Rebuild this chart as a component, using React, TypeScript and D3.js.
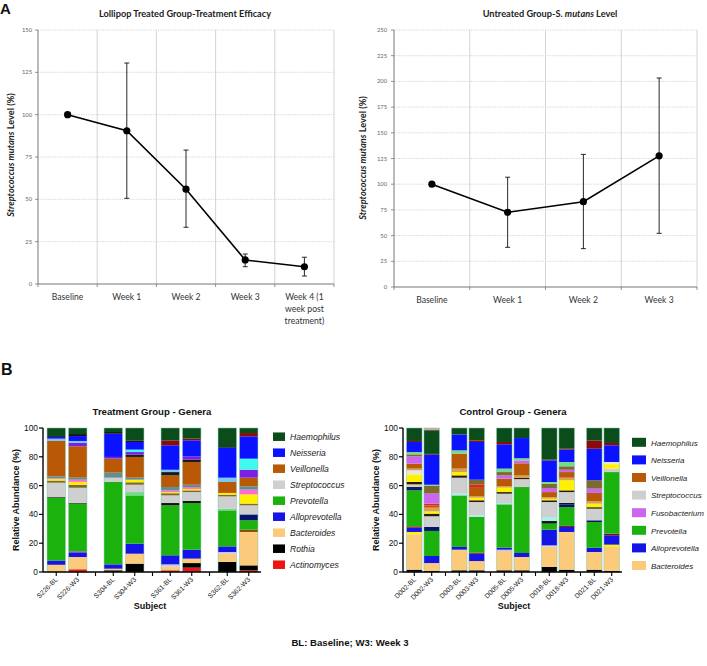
import React from 'react';
import * as d3 from 'd3';

// ---------- Panel A data ----------
const treatedWeeks = ['Baseline', 'Week 1', 'Week 2', 'Week 3', 'Week 4'];
const treatedWeekLabels = [['Baseline'], ['Week 1'], ['Week 2'], ['Week 3'], ['Week 4 (1', 'week post', 'treatment)']];
const treatedMean = [100, 90.5, 56, 14.2, 10.2];
const treatedLow = [100, 50.6, 33.5, 10.2, 4.7];
const treatedHigh = [100, 130.5, 79.1, 17.7, 15.8];
const treatedTicks = [0, 25, 50, 75, 100, 125, 150];

const untreatedWeeks = ['Baseline', 'Week 1', 'Week 2', 'Week 3'];
const untreatedMean = [100, 72.7, 83, 127.6];
const untreatedLow = [100, 38.6, 37.3, 52.2];
const untreatedHigh = [100, 106.8, 129, 203.3];
const untreatedTicks = [0, 25, 50, 75, 100, 125, 150, 175, 200, 225, 250];

// ---------- Panel B: treatment group ----------
const treatBars = ['S226-BL', 'S226-W3', 'S304-BL', 'S304-W3', 'S361-BL', 'S361-W3', 'S362-BL', 'S362-W3'];
const treatSubjects = ['S226', 'S304', 'S361', 'S362'];
const tActinomyces = [0, 1.9, 0, 0, 1.2, 3, 0, 1.2];
const tRothia = [0, 0, 1.2, 5.8, 0, 3.2, 7, 3.4];
const tBacteroides = [5, 8.5, 1.1, 6.9, 2.7, 3.1, 5.7, 23.2];
const tLavender = [0, 0, 0, 0, 1.4, 0, 1.2, 0];
const tAlloprevotella = [3, 3, 3, 7, 6.3, 6.2, 3.9, 0];
const tPurpleLow = [0, 0.9, 0, 0, 0, 0, 0, 0];
const tBrownLow = [0, 0, 0, 0, 0, 0, 0, 1.6];
const tPrevotella = [43.5, 33.2, 57.2, 33.5, 34.7, 32.4, 25, 6.5];
const tNavy = [0, 0, 0, 0, 0, 0, 0, 4.1];
const tBlackMid = [0.5, 0.5, 0, 0, 1.6, 1.4, 0, 0];
const tLightGreen = [0, 0, 0, 2.3, 0, 0, 1.2, 0];
const tStreptococcus = [10, 10.5, 3, 5.1, 5.3, 6.2, 8.5, 6.3];
const tOlive = [1.5, 2.1, 0, 1.7, 1.5, 1.2, 1.2, 1.2];
const tYellow = [1, 2, 0, 1.8, 0.8, 1, 1.2, 6.4];
const tPink = [0.5, 1.5, 0, 0, 1.2, 1.3, 0, 3.3];
const tTeal = [1.5, 1.4, 3.5, 1.4, 2.3, 1.6, 0, 2.3];
const tVeillonella = [24.5, 21.8, 9.7, 14.4, 8.1, 15.8, 7.6, 6];
const tBlackHigh = [0, 0, 0, 1.6, 2.3, 1.6, 0, 0];
const tPurple = [0, 2.3, 1.2, 1.8, 0, 2.3, 0, 5.5];
const tCyan = [0, 0, 0, 1.7, 0, 0, 0, 7.7];
const tLightBlue = [1.6, 1.4, 0, 0, 1.6, 0, 3, 0];
const tNeisseria = [1.2, 3.4, 16.1, 5.3, 17, 11.1, 20.8, 15.5];
const tDarkRed = [0, 0, 0, 0, 3.4, 1.2, 0, 2.3];
const tBlackTop = [0.6, 1.4, 1.2, 1.1, 0, 0, 0.5, 0];
const tHaemophilus = [5.6, 4.2, 2.8, 8.6, 8.6, 7.4, 13.2, 3.5];

const treatLegend = ['Haemophilus', 'Neisseria', 'Veillonella', 'Streptococcus', 'Prevotella', 'Alloprevotella', 'Bacteroides', 'Rothia', 'Actinomyces'];

// ---------- Panel B: control group ----------
const ctrlBars = ['D002-BL', 'D002-W3', 'D003-BL', 'D003-W3', 'D005-BL', 'D005-W3', 'D018-BL', 'D018-W3', 'D021-BL', 'D021-W3'];
const ctrlSubjects = ['D002', 'D003', 'D005', 'D018', 'D021'];
const cBlack = [1.6, 0.7, 1.2, 1.2, 1.2, 1.2, 3.5, 1.6, 1.6, 0.7];
const cBacteroides = [24.6, 5.5, 14.3, 6.4, 13.4, 9.2, 14.3, 26.2, 12.3, 16.7];
const cYellowLow = [1.6, 0, 0, 0, 0, 0, 0, 0, 0, 1.6];
const cLavender = [0, 0, 0, 0, 0.9, 0, 0.7, 0, 0, 0];
const cAlloprevotella = [3, 4.9, 1.9, 5.1, 1.4, 2.8, 10.9, 3.5, 3, 6.5];
const cDarkRedLow = [0.9, 0, 0, 0.7, 0, 0, 0, 0.7, 0, 1.1];
const cPrevotella = [25, 17.4, 35.8, 24.8, 30.1, 45.8, 4.2, 13.1, 17.8, 42.8];
const cNavy = [1.6, 2.8, 0, 0, 0, 0, 0, 1.9, 1.2, 0];
const cBlackMid = [0.7, 0, 0, 0, 0, 0, 1.8, 1, 0, 0];
const cLightCyan = [0, 0, 1.2, 1.2, 0.9, 0, 2.8, 0, 0, 0];
const cStreptococcus = [1.9, 7.4, 11.1, 9.2, 6.5, 5.5, 10.4, 7.5, 8.1, 2.4];
const cBlackMid2 = [1.6, 1.8, 1.6, 1.2, 1.1, 0.8, 1.2, 1.2, 1, 0];
const cYellow = [5.3, 1.6, 2.3, 1.8, 3.1, 0, 1.1, 7, 2.5, 3.1];
const cSilver = [2.8, 0, 0, 0, 0, 0, 0, 0, 0, 1.5];
const cTan = [1.2, 2.6, 2.4, 0.9, 0.9, 1.7, 1.1, 1.8, 1.8, 0];
const cVeillonella = [3.4, 1.6, 10.4, 6.5, 5.3, 8.5, 3.5, 3.9, 5.6, 0];
const cRed = [0, 1.2, 0, 1.6, 0, 0, 0, 0, 0, 0];
const cFusobacterium = [5.1, 7, 0, 0, 2.3, 2, 2.8, 1.6, 3, 0];
const cOlive = [1.4, 5.5, 0, 3.5, 2.3, 0, 3, 2.4, 5.8, 0];
const cLightGreen = [1.6, 0.6, 2.3, 0, 2.4, 1.5, 1.2, 3, 0, 0];
const cNeisseria = [7, 20.9, 11, 26.2, 16.9, 14, 15, 8.6, 21.9, 11.6];
const cDarkRed = [0.7, 0.5, 0, 1.1, 1.6, 0, 0.5, 0.6, 5.8, 1.6];
const cHaemophilus = [9, 16.5, 4.5, 8.6, 9.7, 7, 22, 14.4, 8.6, 10.4];
const cTopPink = [0, 1.5, 0, 0, 0, 0, 0, 0, 0, 0];

const ctrlLegend = ['Haemophilus', 'Neisseria', 'Veillonella', 'Streptococcus', 'Fusobacterium', 'Prevotella', 'Alloprevotella', 'Bacteroides'];

const yTicksB = [0, 20, 40, 60, 80, 100];

// ---------- colours ----------
const COL: Record<string, string> = {
  Actinomyces: '#ec1414', Rothia: '#000000', Bacteroides: '#fbca7b', Lavender: '#c9c3f0',
  Alloprevotella: '#1414e6', PurpleLow: '#7a22c8', BrownLow: '#8a4b12', Prevotella: '#1cb20e',
  Navy: '#03136e', BlackMid: '#141414', LightGreen: '#72dc8c', Streptococcus: '#cfcfcf',
  Olive: '#7d6a2c', Yellow: '#fff200', Pink: '#ff6ad5', Teal: '#5f8f96', Veillonella: '#b95906',
  BlackHigh: '#1a1a1a', Purple: '#7b20e0', Cyan: '#40faf0', LightBlue: '#7ec8f0',
  Neisseria: '#0a12ff', DarkRed: '#8b0a0a', BlackTop: '#141414', Haemophilus: '#0b4d1a',
  Black: '#000000', YellowLow: '#fff200', DarkRedLow: '#8b0a0a', LightCyan: '#a8f0e8',
  BlackMid2: '#2a1a0a', Silver: '#e6e6e6', Tan: '#d8a050', Red: '#ef1d2a',
  Fusobacterium: '#cc66ee', TopPink: '#d8a0b0',
};

const treatSeries: [string, number[]][] = [
  ['Actinomyces', tActinomyces], ['Rothia', tRothia], ['Bacteroides', tBacteroides], ['Lavender', tLavender],
  ['Alloprevotella', tAlloprevotella], ['PurpleLow', tPurpleLow], ['BrownLow', tBrownLow], ['Prevotella', tPrevotella],
  ['Navy', tNavy], ['BlackMid', tBlackMid], ['LightGreen', tLightGreen], ['Streptococcus', tStreptococcus],
  ['Olive', tOlive], ['Yellow', tYellow], ['Pink', tPink], ['Teal', tTeal], ['Veillonella', tVeillonella],
  ['BlackHigh', tBlackHigh], ['Purple', tPurple], ['Cyan', tCyan], ['LightBlue', tLightBlue],
  ['Neisseria', tNeisseria], ['DarkRed', tDarkRed], ['BlackTop', tBlackTop], ['Haemophilus', tHaemophilus],
];
const ctrlSeries: [string, number[]][] = [
  ['Black', cBlack], ['Bacteroides', cBacteroides], ['YellowLow', cYellowLow], ['Lavender', cLavender],
  ['Alloprevotella', cAlloprevotella], ['DarkRedLow', cDarkRedLow], ['Prevotella', cPrevotella], ['Navy', cNavy],
  ['BlackMid', cBlackMid], ['LightCyan', cLightCyan], ['Streptococcus', cStreptococcus], ['BlackMid2', cBlackMid2],
  ['Yellow', cYellow], ['Silver', cSilver], ['Tan', cTan], ['Veillonella', cVeillonella], ['Red', cRed],
  ['Fusobacterium', cFusobacterium], ['Olive', cOlive], ['LightGreen', cLightGreen], ['Neisseria', cNeisseria],
  ['DarkRed', cDarkRed], ['Haemophilus', cHaemophilus], ['TopPink', cTopPink],
];

const FA = 'Lato, "Open Sans", sans-serif';
const FB = '"Liberation Sans", Arial, sans-serif';

type LineProps = {
  cats: string[]; labels: string[][]; mean: number[]; low: number[]; high: number[]; ticks: number[];
  x0: number; x1: number; y0: number; y1: number; tickLabelX: number; labelY: number;
};

function LinePanel(p: LineProps) {
  const x = d3.scaleBand().domain(p.cats).range([p.x0, p.x1]).padding(0);
  const y = d3.scaleLinear().domain([0, p.ticks[p.ticks.length - 1]]).range([p.y0, p.y1]);
  const cx = (c: string) => (x(c) as number) + x.bandwidth() / 2;
  const line = d3.line<number>().x((_, i) => cx(p.cats[i])).y((d) => y(d));
  const bounds = p.cats.map((c) => x(c) as number).concat([p.x1]);
  return (
    <g>
      {p.ticks.filter((t) => t > 0).map((t) => (
        <line key={'h' + t} x1={p.x0} x2={p.x1} y1={y(t)} y2={y(t)} stroke="#c9c9c9" strokeWidth={0.8} strokeDasharray="1.2,1.2" />
      ))}
      {bounds.slice(1).map((b, i) => (
        <line key={'v' + i} x1={b} x2={b} y1={p.y1} y2={p.y0} stroke="#cfcfcf" strokeWidth={0.9} />
      ))}
      <line x1={p.x0} x2={p.x0} y1={p.y1} y2={p.y0} stroke="#777" strokeWidth={1} />
      <line x1={p.x0} x2={p.x1} y1={p.y0} y2={p.y0} stroke="#777" strokeWidth={1} />
      {p.ticks.map((t) => (
        <g key={'t' + t}>
          <line x1={p.x0 - 3} x2={p.x0} y1={y(t)} y2={y(t)} stroke="#777" strokeWidth={0.8} />
          <text x={p.tickLabelX} y={y(t) + 2} fontSize={5.8} fill="#666" textAnchor="end" fontFamily={FA}>{t}</text>
        </g>
      ))}
      {bounds.map((b, i) => (
        <line key={'xt' + i} x1={b} x2={b} y1={p.y0} y2={p.y0 + 3} stroke="#777" strokeWidth={0.8} />
      ))}
      {p.cats.map((c, i) => (
        <text key={'xl' + c} x={cx(c)} y={p.labelY} fontSize={8.6} fill="#333" textAnchor="middle" fontFamily={FA}>
          {p.labels[i].map((l, j) => (
            <tspan key={j} x={cx(c)} dy={j === 0 ? 0 : 12.2}>{l}</tspan>
          ))}
        </text>
      ))}
      {p.cats.map((c, i) => (p.high[i] > p.low[i] ? (
        <g key={'e' + c}>
          <line x1={cx(c)} x2={cx(c)} y1={y(p.high[i])} y2={y(p.low[i])} stroke="#111" strokeWidth={0.9} />
          <line x1={cx(c) - 2.5} x2={cx(c) + 2.5} y1={y(p.high[i])} y2={y(p.high[i])} stroke="#111" strokeWidth={0.9} />
          <line x1={cx(c) - 2.5} x2={cx(c) + 2.5} y1={y(p.low[i])} y2={y(p.low[i])} stroke="#111" strokeWidth={0.9} />
        </g>
      ) : null))}
      <path d={line(p.mean) || ''} fill="none" stroke="#000" strokeWidth={1.6} />
      {p.cats.map((c, i) => (
        <circle key={'p' + c} cx={cx(c)} cy={y(p.mean[i])} r={3.6} fill="#000" />
      ))}
    </g>
  );
}

type BarProps = {
  bars: string[]; subjects: string[]; series: [string, number[]][];
  groupRange: [number, number]; innerRange: [number, number]; barW: number;
  axisX0: number; axisX1: number; title: string; titleX: number;
  legend: string[]; legendX: number; legendY0: number; legendStep: number; swW: number; swH: number;
  subjectX: number; legendFont: number;
};

function BarPanel(p: BarProps) {
  const y = d3.scaleLinear().domain([0, 100]).range([572, 428]);
  const gx = d3.scaleBand().domain(p.subjects).range(p.groupRange).padding(0);
  const ix = d3.scalePoint().domain(['BL', 'W3']).range(p.innerRange);
  const keys = p.series.map((s) => s[0]);
  const rows = p.bars.map((b, i) => {
    const r: Record<string, number> = {};
    p.series.forEach(([k, v]) => { r[k] = v[i]; });
    return r;
  });
  const stacked = d3.stack<Record<string, number>>().keys(keys)(rows);
  const cx = (b: string) => {
    const [g, t] = b.split('-');
    return (gx(g) as number) + (ix(t) as number);
  };
  const bounds = p.subjects.slice(1).map((s) => gx(s) as number);
  return (
    <g fontFamily={FB}>
      <text x={p.titleX} y={415} fontSize={9.6} fontWeight="bold" textAnchor="middle" fill="#111">{p.title}</text>
      {stacked.map((layer) => (
        <g key={layer.key} fill={COL[layer.key]}>
          {layer.map((d, i) => (d[1] - d[0] > 0 ? (
            <rect key={i} x={cx(p.bars[i]) - p.barW / 2} width={p.barW} y={y(d[1])} height={y(d[0]) - y(d[1])} />
          ) : null))}
        </g>
      ))}
      {p.bars.map((b) => (
        <rect key={'o' + b} x={cx(b) - p.barW / 2} width={p.barW} y={y(100)} height={y(0) - y(100)} fill="none" stroke="#7fc4b0" strokeWidth={0.5} />
      ))}
      <line x1={p.axisX0} x2={p.axisX0} y1={y(100)} y2={y(0)} stroke="#000" strokeWidth={1.4} />
      <line x1={p.axisX0} x2={p.axisX1} y1={y(0)} y2={y(0)} stroke="#000" strokeWidth={1.4} />
      {yTicksB.map((t) => (
        <g key={'y' + t}>
          <line x1={p.axisX0 - 4} x2={p.axisX0} y1={y(t)} y2={y(t)} stroke="#000" strokeWidth={1.2} />
          <text x={p.axisX0 - 5} y={y(t) + 3} fontSize={8.4} textAnchor="end" fill="#111">{t}</text>
        </g>
      ))}
      {p.bars.map((b) => (
        <g key={'x' + b}>
          <line x1={cx(b)} x2={cx(b)} y1={y(0)} y2={y(0) + 4} stroke="#000" strokeWidth={1.1} />
          <text transform={`translate(${cx(b) + 2},${y(0) + 8}) rotate(-45)`} fontSize={6.8} textAnchor="end" fill="#222">{b}</text>
        </g>
      ))}
      {bounds.map((b, i) => (
        <line key={'bx' + i} x1={b} x2={b} y1={y(0)} y2={y(0) + 4} stroke="#000" strokeWidth={1.1} />
      ))}
      <text transform={`translate(${p.axisX0 - 24},${y(50)}) rotate(-90)`} fontSize={9} fontWeight="bold" textAnchor="middle" fill="#111">Relative Abundance (%)</text>
      <text x={p.subjectX} y={609} fontSize={9} fontWeight="bold" textAnchor="middle" fill="#111">Subject</text>
      {p.legend.map((g, i) => (
        <g key={'l' + g}>
          <rect x={p.legendX} y={p.legendY0 + i * p.legendStep - p.swH / 2} width={p.swW} height={p.swH} fill={COL[g]} />
          <text x={p.legendX + p.swW + 5} y={p.legendY0 + i * p.legendStep + 3.2} fontSize={p.legendFont} fontStyle="italic" fill="#222">{g}</text>
        </g>
      ))}
    </g>
  );
}

export default function App() {
  return (
    <svg width={707} height={666} viewBox="0 0 707 666" style={{ position: 'absolute', left: 0, top: 0, background: '#fff' }}>
      <rect width={707} height={666} fill="#fff" />
      {/* Panel A */}
      <text x={0} y={13.5} fontSize={15} fontWeight="bold" fontFamily={FB} fill="#111">A</text>
      <text x={185} y={17} fontSize={9.2} fontWeight="bold" textAnchor="middle" fontFamily={FA} fill="#222">Lollipop Treated Group-Treatment Efficacy</text>
      <text transform="translate(13.5,155) rotate(-90)" fontSize={9.2} fontWeight="bold" textAnchor="middle" fontFamily={FA} fill="#222">
        <tspan fontStyle="italic">Streptococcus mutans</tspan> Level (%)
      </text>
      <LinePanel cats={treatedWeeks} labels={treatedWeekLabels} mean={treatedMean} low={treatedLow} high={treatedHigh}
        ticks={treatedTicks} x0={38} x1={334} y0={284} y1={30} tickLabelX={32} labelY={300} />

      <text x={550} y={17} fontSize={9.2} fontWeight="bold" textAnchor="middle" fontFamily={FA} fill="#222">
        Untreated Group-S. <tspan fontStyle="italic">mutans</tspan> Level
      </text>
      <text transform="translate(366,158) rotate(-90)" fontSize={9.2} fontWeight="bold" textAnchor="middle" fontFamily={FA} fill="#222">
        <tspan fontStyle="italic">Streptococcus mutans</tspan> Level (%)
      </text>
      <LinePanel cats={untreatedWeeks} labels={untreatedWeeks.map((w) => [w])} mean={untreatedMean} low={untreatedLow} high={untreatedHigh}
        ticks={untreatedTicks} x0={394} x1={697} y0={287} y1={30} tickLabelX={387} labelY={303} />

      {/* Panel B */}
      <text x={1} y={375} fontSize={16} fontWeight="bold" fontFamily={FB} fill="#111">B</text>
      <BarPanel bars={treatBars} subjects={treatSubjects} series={treatSeries}
        groupRange={[38.5, 266.5]} innerRange={[17.75, 39.25]} barW={18.4}
        axisX0={43} axisX1={261} title="Treatment Group - Genera" titleX={152}
        legend={treatLegend} legendX={273} legendY0={436.7} legendStep={16} swW={12} swH={8.5} subjectX={150} legendFont={8.6} />
      <BarPanel bars={ctrlBars} subjects={ctrlSubjects} series={ctrlSeries}
        groupRange={[400.5, 625.5]} innerRange={[13.8, 31.2]} barW={15.5}
        axisX0={403} axisX1={622} title="Control Group - Genera" titleX={513}
        legend={ctrlLegend} legendX={632} legendY0={442.3} legendStep={17.6} swW={14} swH={9} subjectX={514} legendFont={8} />
      <text x={350} y={646} fontSize={9.6} fontWeight="bold" textAnchor="middle" fontFamily={FB} fill="#111">BL: Baseline; W3: Week 3</text>
    </svg>
  );
}
